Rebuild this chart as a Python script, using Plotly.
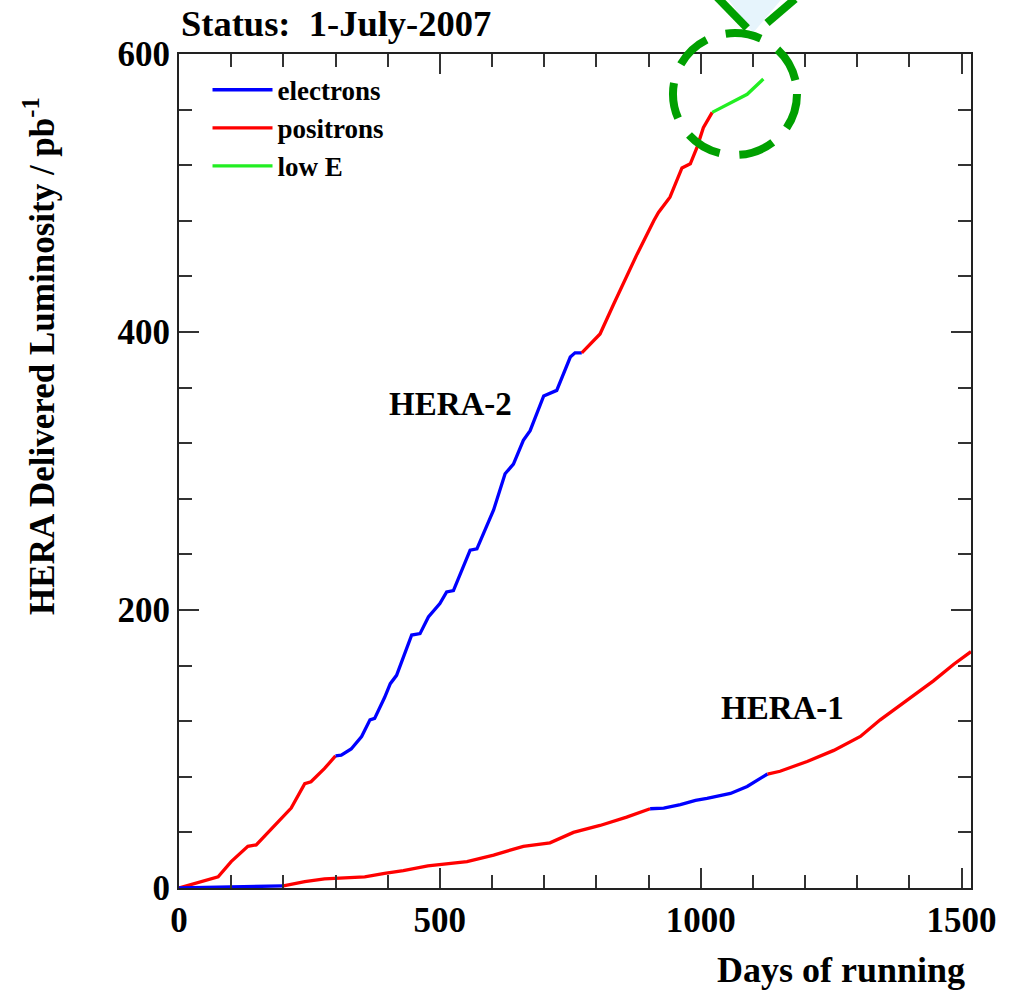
import plotly.graph_objects as go

# ---------------- data (days, pb^-1) ----------------
# HERA-2
h2_pos1_x = [0, 75, 100, 132, 148, 176, 196, 215, 241, 253, 279, 300]
h2_pos1_y = [0, 8, 19, 30, 31, 42, 50, 57.5, 75, 76.4, 86, 95]
h2_ele_x = [300, 311, 330, 350, 366, 375, 394, 405, 417, 446, 462, 478, 500, 513,
            526, 558, 571, 603, 625, 641, 660, 673, 699, 724, 750, 759, 772]
h2_ele_y = [95, 95.5, 100, 109, 121, 122, 137, 147, 153, 182, 183, 195, 204.6, 213,
            214, 243, 244, 272, 298, 305, 322, 329, 354, 358, 382, 385, 385]
h2_pos2_x = [772, 795, 807, 833, 878, 910, 919, 941, 964, 980, 993, 1005, 1022]
h2_pos2_y = [385, 394, 398.6, 420, 456, 480, 486, 497, 518, 521, 533, 547, 558]
h2_low_x = [1022, 1057, 1089, 1120]
h2_low_y = [558, 565, 571, 582]

# HERA-1
h1_ele1_x = [0, 100, 200]
h1_ele1_y = [0, 0.5, 1.5]
h1_pos1_x = [200, 241, 279, 298, 356, 394, 430, 477, 500, 552, 603, 660, 711, 756, 807, 858, 903]
h1_pos1_y = [1.5, 4.5, 6.5, 7, 8, 10.5, 12.5, 16, 17, 19, 23.7, 30, 32.5, 40, 45, 51, 57]
h1_ele2_x = [903, 929, 961, 990, 1012, 1057, 1089, 1128]
h1_ele2_y = [57, 57.5, 60, 63, 64.4, 68, 73, 82]
h1_pos2_x = [1128, 1152, 1204, 1255, 1306, 1344, 1395, 1446, 1485, 1518]
h1_pos2_y = [82, 84, 91, 99, 109, 121, 135, 149, 161, 170]

x_ticks = [0, 500, 1000, 1500]
y_ticks = [0, 200, 400, 600]

COL = {"electrons": "#0000FF", "positrons": "#FF0000", "low E": "#22EE22"}
FONT = "Liberation Serif"

segments = [
    ("positrons", h2_pos1_x, h2_pos1_y),
    ("electrons", h2_ele_x, h2_ele_y),
    ("positrons", h2_pos2_x, h2_pos2_y),
    ("low E", h2_low_x, h2_low_y),
    ("electrons", h1_ele1_x, h1_ele1_y),
    ("positrons", h1_pos1_x, h1_pos1_y),
    ("electrons", h1_ele2_x, h1_ele2_y),
    ("positrons", h1_pos2_x, h1_pos2_y),
]
rank = {"electrons": 1, "positrons": 2, "low E": 3}

fig = go.Figure()
shown = set()
for name, xs, ys in segments:
    fig.add_trace(go.Scatter(
        x=xs, y=ys, mode="lines", name=name, legendgroup=name,
        showlegend=name not in shown, legendrank=rank[name],
        line=dict(color=COL[name], width=3.3), hoverinfo="skip"))
    shown.add(name)

axis_common = dict(
    showline=True, linecolor="#222222", linewidth=2, mirror="ticks",
    ticks="inside", ticklen=20, tickwidth=2, tickcolor="#333333",
    showgrid=False, zeroline=False,
    tickfont=dict(family=FONT, size=35, color="black", weight="bold"),
)
fig.update_xaxes(range=[0, 1518], tickvals=x_ticks, ticktext=[str(v) for v in x_ticks],
                 minor=dict(ticks="inside", ticklen=13, tickwidth=2, tickcolor="#333333",
                            tick0=0, dtick=100),
                 **axis_common)
fig.update_yaxes(range=[0, 600], tickvals=y_ticks, ticktext=[str(v) for v in y_ticks],
                 minor=dict(ticks="inside", ticklen=13, tickwidth=2, tickcolor="#333333",
                            tick0=0, dtick=40),
                 **axis_common)

annos = [
    dict(text="Status:&nbsp; 1-July-2007", xref="paper", yref="paper", x=0.0, y=1.037,
         xanchor="left", yanchor="middle", showarrow=False,
         font=dict(family=FONT, size=36.5, color="black", weight="bold")),
    dict(text="Days of running", xref="paper", yref="paper", x=0.995, y=-0.098,
         xanchor="right", yanchor="middle", showarrow=False,
         font=dict(family=FONT, size=36, color="black", weight="bold")),
    dict(text="HERA Delivered Luminosity / pb<sup>-1</sup>", xref="paper", yref="paper",
         x=-0.1755, y=0.638, xanchor="center", yanchor="middle", textangle=-90,
         showarrow=False, font=dict(family=FONT, size=35, color="black", weight="bold")),
    dict(text="HERA-2", x=520, y=348.5, xref="x", yref="y", showarrow=False,
         font=dict(family=FONT, size=33, color="black", weight="bold")),
    dict(text="HERA-1", x=1157, y=129.3, xref="x", yref="y", showarrow=False,
         font=dict(family=FONT, size=33, color="black", weight="bold")),
]

GREEN = "#00A000"
shapes = [
    # light blue arrow tip (cut off at top of the page)
    dict(type="path", xref="paper", yref="paper",
         path="M 0.6894 1.0707 L 0.7247 1.0252 L 0.7652 1.0707 Z",
         fillcolor="#E6F4FC", line=dict(width=0), layer="above"),
    # its two dashed green edges
    dict(type="line", xref="paper", yref="paper", x0=0.6780, y0=1.0695, x1=0.7172, y1=1.0312,
         line=dict(color=GREEN, width=8), layer="above"),
    dict(type="line", xref="paper", yref="paper", x0=0.7424, y0=1.0372, x1=0.7778, y1=1.0659,
         line=dict(color=GREEN, width=8), layer="above"),
    # dashed green circle
    dict(type="circle", xref="paper", yref="paper",
         x0=0.6237, x1=0.7803, y0=0.8789, y1=1.0252,
         line=dict(color=GREEN, width=8, dash="36px,20px"), layer="above"),
]

fig.update_layout(
    width=1017, height=991,
    margin=dict(l=179, r=46, t=54, b=103),
    paper_bgcolor="white", plot_bgcolor="white",
    annotations=annos, shapes=shapes,
    legend=dict(x=0.036, y=0.986, xanchor="left", yanchor="top",
                bgcolor="rgba(0,0,0,0)",
                font=dict(family=FONT, size=27, color="black", weight="bold"),
                tracegroupgap=0, itemwidth=60),
    showlegend=True,
)

fig.write_html("out.html")
